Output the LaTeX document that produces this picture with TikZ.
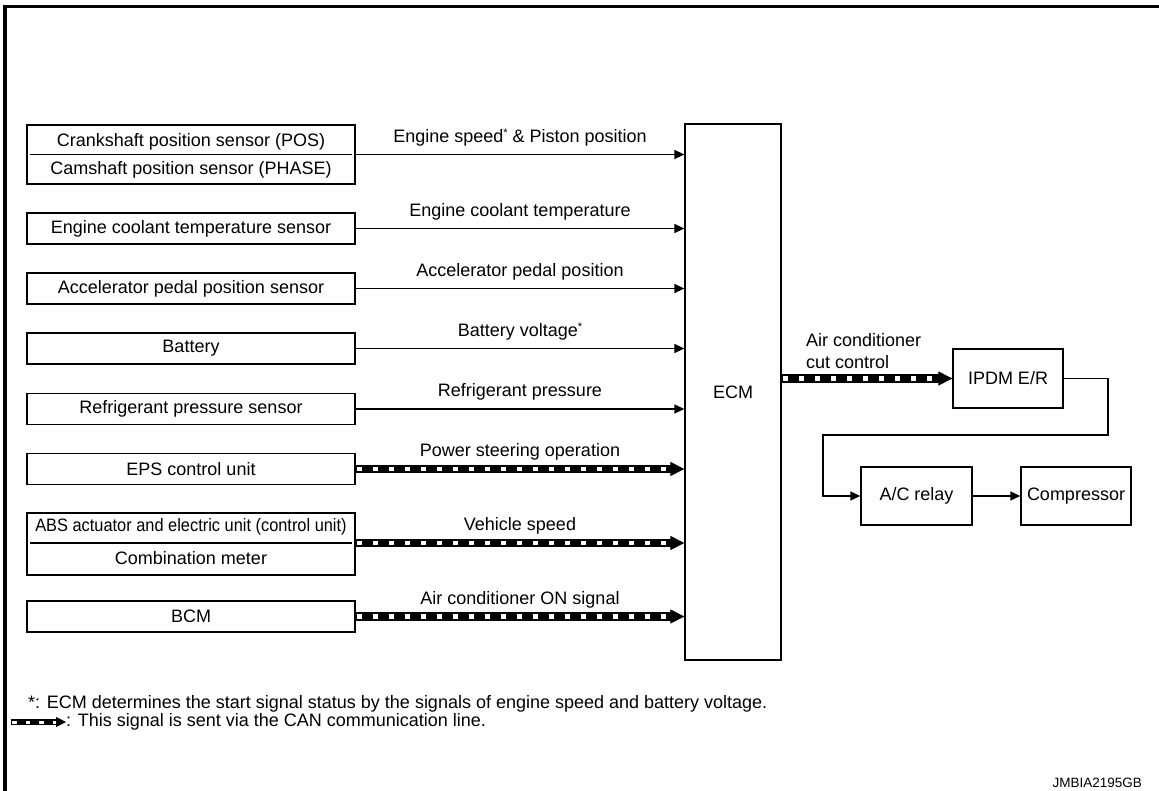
\documentclass[tikz,border=0pt]{standalone}
\usepackage{fontspec}
\setmainfont{Liberation Sans}
\usetikzlibrary{arrows.meta,calc}
\newcommand\myfs{\fontsize{18}{22}\selectfont}
\newcommand\mysm{\fontsize{13.5}{16}\selectfont}
\newcommand\myast{\raisebox{6pt}{\fontsize{11}{11}\selectfont *}}
\begin{document}
\begin{tikzpicture}[x=1pt,y=-1pt,
  box/.style={draw, line width=1.3pt, inner sep=0pt, font=\myfs},
  lbox/.style={box, minimum width=328pt, minimum height=31pt},
  txt/.style={inner sep=0pt, font=\myfs},
  sig/.style={draw, line width=1.3pt, -{Triangle[length=10pt,width=9pt]}},
  lab/.style={midway, yshift=17pt, inner sep=0pt, font=\myfs},
  can/.style={draw, line width=1pt, -{Triangle[length=14pt,width=14pt]},
    preaction={draw, line width=8.5pt, -, shorten >=12pt},
    postaction={draw=white, line width=4.2pt, -, shorten >=13pt, shorten <=1.8pt,
      dash pattern=on 5pt off 11pt}},
  cansm/.style={draw, line width=1pt, -{Triangle[length=10pt,width=10pt]},
    preaction={draw, line width=6.5pt, -, shorten >=9pt},
    postaction={draw=white, line width=3pt, -, shorten >=10pt, shorten <=1.4pt,
      dash pattern=on 4.5pt off 9pt}},
]
\useasboundingbox (0,0) rectangle (1159,791);
% frame
\draw[line width=3.2pt] (5,795) -- (5,6.4) -- (1165,6.4);

% ECM
\node[box, minimum width=96pt, minimum height=536pt] (ecm) at (733,392) {ECM};

% left boxes
\node[lbox, minimum height=59pt] (b1) at (191,154.5) {};
\node[txt] (b1a) at (191,142) {Crankshaft position sensor (POS)};
\node[txt] (b1b) at (191,170) {Camshaft position sensor (PHASE)};
\draw[line width=1.3pt] ($(b1.west)+(4,0)$) -- ($(b1.east)+(-4,0)$);

\node[lbox] (b2) at (191,228.5) {Engine coolant temperature sensor};
\node[lbox] (b3) at (191,288.5) {Accelerator pedal position sensor};
\node[lbox] (b4) at (191,348.5) {Battery};
\node[lbox] (b5) at (191,409) {Refrigerant pressure sensor};
\node[lbox] (b6) at (191,469) {EPS control unit};

\node[lbox, minimum height=62pt] (b7) at (191,544) {};
\node[txt] (b7a) at (191,527) {\scalebox{0.91}[1]{ABS actuator and electric unit (control unit)}};
\node[txt] (b7b) at (191,558) {Combination meter};
\draw[line width=1.3pt] ($(b7.west)+(4,-1)$) -- ($(b7.east)+(-4,-1)$);

\node[lbox] (b8) at (191,616.5) {BCM};

% signals to ECM
\draw[sig] (b1) -- node[lab]{Engine speed\myast{} \& Piston position} (b1 -| ecm.west);
\draw[sig] (b2) -- node[lab]{Engine coolant temperature} (b2 -| ecm.west);
\draw[sig] (b3) -- node[lab]{Accelerator pedal position} (b3 -| ecm.west);
\draw[sig] (b4) -- node[lab]{Battery voltage\myast} (b4 -| ecm.west);
\draw[sig] (b5) -- node[lab]{Refrigerant pressure} (b5 -| ecm.west);
\draw[can] (b6) -- node[lab]{Power steering operation} (b6 -| ecm.west);
\draw[can] (b7.east |- 0,543) -- node[lab]{Vehicle speed} (ecm.west |- 0,543);
\draw[can] (b8) -- node[lab]{Air conditioner ON signal} (b8 -| ecm.west);

% right side
\node[box, minimum width=110pt, minimum height=59pt] (ipdm) at (1008,378.5) {IPDM E/R};
\node[box, minimum width=111pt, minimum height=58pt] (relay) at (916.5,496) {A/C relay};
\node[box, minimum width=110pt, minimum height=58pt] (comp) at (1076,496) {Compressor};

\draw[can] (ecm.east |- ipdm) -- (ipdm.west);
\node[txt, align=left, anchor=west] (cutlab) at (806,351) {Air conditioner\\cut control};

\coordinate (t1) at (1108,435);
\coordinate (t2) at (823,435);
\draw[sig] (ipdm.east) -| (t1) -- (t2) |- (relay.west);
\draw[sig] (relay) -- (comp);

% legend
\node[txt, anchor=west] (note1) at (28,704) {*: ECM determines the start signal status by the signals of engine speed and battery voltage.};
\coordinate (lg1) at (11,722);
\coordinate (lg2) at (66,722);
\draw[cansm] (lg1) -- (lg2);
\node[txt, anchor=west] (note2) at (lg2) {: This signal is sent via the CAN communication line.};

\node[inner sep=0pt, font=\mysm, anchor=east] (code) at (1142,783) {JMBIA2195GB};
\end{tikzpicture}
\end{document}
